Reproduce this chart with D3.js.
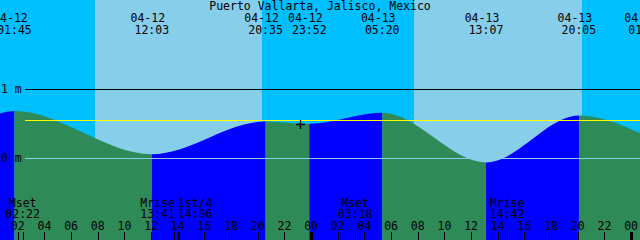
<!DOCTYPE html>
<html>
<head>
<meta charset="utf-8">
<script src="https://cdn.jsdelivr.net/npm/d3@7"></script>
<style>
body { margin: 0; overflow: hidden; background: white; }
svg { display: block; }
text { font-family: "DejaVu Sans Mono", monospace; font-size: 11.5px; fill: black; }
</style>
</head>
<body>
<div class="container"></div>
<script>
// chart data
const title = "Puerto Vallarta, Jalisco, Mexico";
const startTime = "04-12 00:40";
const endTime = "04-14 00:40";

// high / low tides (m)
const tideTimes = ["04-11 22:40", "04-12 01:45", "04-12 12:03", "04-12 20:35", "04-12 23:52",
                   "04-13 05:20", "04-13 13:07", "04-13 20:05", "04-14 01:05"];
const tideLevels = [0.47, 0.685, 0.06, 0.535, 0.50, 0.66, -0.06, 0.62, 0.33];

const sunriseTimes = ["04-12 07:47", "04-13 07:44"];
const sunsetTimes = ["04-12 20:19", "04-13 20:19"];

const moonTimes = ["04-12 02:22", "04-12 13:41", "04-12 14:06", "04-13 03:18", "04-13 14:42"];
const moonLabels = ["Mset", "Mrise", "1st/4", "Mset", "Mrise"];

const levelTicks = [0, 1];
const mslLevel = 0.55;
const markTime = "04-12 23:10";
const markLevel = 0.49;

const width = 640, height = 240;

const parse = d3.utcParse("%m-%d %H:%M");
const fmtDate = d3.utcFormat("%m-%d");
const fmtTime = d3.utcFormat("%H:%M");
const fmtHour = d3.utcFormat("%H");

const svg = d3.select(".container")
    .append("svg")
    .attr("width", width)
    .attr("height", height);

const x_scale = d3.scaleUtc()
    .domain([parse(startTime), parse(endTime)])
    .range([0, width]);

const y_scale = d3.scaleLinear()
    .domain([0, 1])
    .range([158.3, 89.3]);

const tides = tideTimes.map((t, i) => ({time: parse(t), level: tideLevels[i]}));

// sky: night / day bands
const t0 = x_scale.domain()[0], t1 = x_scale.domain()[1];
const bands = [{from: t0, to: parse(sunriseTimes[0]), day: false}];
sunriseTimes.forEach((s, i) => {
    bands.push({from: parse(s), to: parse(sunsetTimes[i]), day: true});
    bands.push({from: parse(sunsetTimes[i]), to: i + 1 < sunriseTimes.length ? parse(sunriseTimes[i + 1]) : t1, day: false});
});

svg.append("g")
    .selectAll("rect")
    .data(bands)
    .join("rect")
    .attr("x", d => x_scale(d.from))
    .attr("y", 0)
    .attr("width", d => x_scale(d.to) - x_scale(d.from))
    .attr("height", height)
    .attr("fill", d => d.day ? "#87ceeb" : "#00bfff")
    .attr("shape-rendering", "crispEdges");

// water: flood (rising) blue, ebb (falling) green
const area = d3.area()
    .curve(d3.curveMonotoneX)
    .x(d => x_scale(d.time))
    .y0(height)
    .y1(d => y_scale(d.level));

const segments = d3.pairs(tides);
const defs = svg.append("defs");
defs.selectAll("clipPath")
    .data(segments)
    .join("clipPath")
    .attr("id", (d, i) => "seg" + i)
    .append("rect")
    .attr("x", d => x_scale(d[0].time))
    .attr("y", 0)
    .attr("width", d => x_scale(d[1].time) - x_scale(d[0].time))
    .attr("height", height);

svg.append("g")
    .selectAll("path")
    .data(segments)
    .join("path")
    .attr("clip-path", (d, i) => `url(#seg${i})`)
    .attr("d", area(tides))
    .attr("fill", d => d[1].level > d[0].level ? "#0000ff" : "#2e8b57");

// level lines
const level_group = svg.append("g").attr("shape-rendering", "crispEdges");
level_group.selectAll("line")
    .data(levelTicks)
    .join("line")
    .attr("x1", 25)
    .attr("x2", width)
    .attr("y1", d => Math.round(y_scale(d)) + 0.5)
    .attr("y2", d => Math.round(y_scale(d)) + 0.5)
    .attr("stroke", d => d === 0 ? "#87ceeb" : "black");

level_group.append("line")
    .attr("x1", 25)
    .attr("x2", width)
    .attr("y1", Math.round(y_scale(mslLevel)) + 0.5)
    .attr("y2", Math.round(y_scale(mslLevel)) + 0.5)
    .attr("stroke", "#ffff00");

svg.append("g")
    .selectAll("text")
    .data(levelTicks)
    .join("text")
    .attr("x", 1)
    .attr("y", d => y_scale(d) + 4)
    .text(d => d + " m");

// marker cross
const mx = Math.round(x_scale(parse(markTime))) + 0.5;
const my = Math.round(y_scale(markLevel)) + 0.5;
svg.append("path")
    .attr("d", `M${mx - 4.5},${my}H${mx + 4.5}M${mx},${my - 4.5}V${my + 4.5}`)
    .attr("stroke", "black")
    .attr("stroke-width", 1.3)
    .attr("fill", "none");

// title
svg.append("text")
    .attr("x", width / 2)
    .attr("y", 9.5)
    .attr("text-anchor", "middle")
    .text(title);

// tide event labels at the top
const tide_labels = svg.append("g")
    .attr("text-anchor", "middle")
    .selectAll("g")
    .data(tides.slice(1))
    .join("g")
    .attr("transform", d => `translate(${x_scale(d.time)},0)`);

tide_labels.append("text")
    .attr("x", -4)
    .attr("y", 21.5)
    .text(d => fmtDate(d.time));

tide_labels.append("text")
    .attr("y", 33.5)
    .text(d => fmtTime(d.time));

// hour ticks and labels
const hours = x_scale.ticks(d3.utcHour.every(2));
const tick_group = svg.append("g").attr("shape-rendering", "crispEdges");

tick_group.selectAll("rect")
    .data(hours)
    .join("rect")
    .attr("x", d => d.getUTCHours() === 0 ? Math.round(x_scale(d)) - 1 : Math.round(x_scale(d)))
    .attr("y", 232)
    .attr("width", d => d.getUTCHours() === 0 ? 3 : 1)
    .attr("height", height - 232)
    .attr("fill", "black");

svg.append("g")
    .attr("text-anchor", "middle")
    .selectAll("text")
    .data(hours)
    .join("text")
    .attr("x", d => x_scale(d))
    .attr("y", 230)
    .text(fmtHour);

// moon events
const moon = moonTimes.map((t, i) => ({time: parse(t), label: moonLabels[i]}));
moon.forEach(d => d.cx = x_scale(d.time));
const need = 37.5;
for (let i = 1; i < moon.length; i++) {
    const a = moon[i - 1], b = moon[i];
    if (b.cx - a.cx < need) {
        const mid = (a.cx + b.cx) / 2;
        a.cx = mid - need / 2;
        b.cx = mid + need / 2;
    }
}

tick_group.append("g")
    .selectAll("rect")
    .data(moon)
    .join("rect")
    .attr("x", d => Math.round(x_scale(d.time)))
    .attr("y", 232)
    .attr("width", 1)
    .attr("height", height - 232)
    .attr("fill", "black");

const moon_labels = svg.append("g")
    .attr("text-anchor", "middle")
    .selectAll("g")
    .data(moon)
    .join("g")
    .attr("transform", d => `translate(${d.cx},0)`);

moon_labels.append("text")
    .attr("y", 206.5)
    .text(d => d.label);

moon_labels.append("text")
    .attr("y", 218.3)
    .text(d => fmtTime(d.time));
</script>
</body>
</html>
